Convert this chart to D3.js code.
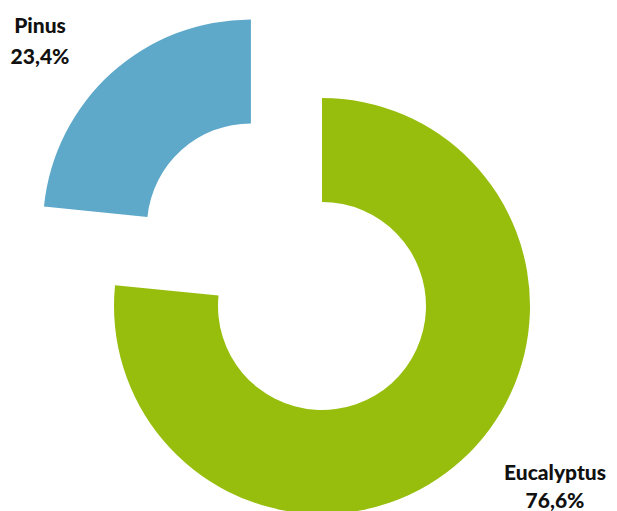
<!DOCTYPE html>
<html>
<head>
<meta charset="utf-8">
<script src="https://cdn.jsdelivr.net/npm/d3@7"></script>
<style>
  html, body { margin: 0; padding: 0; background: #ffffff; }
  svg { display: block; }
  .label { font-family: Lato, "Open Sans", sans-serif; font-weight: 900; fill: #111111; }
</style>
</head>
<body>
<div id="chart"></div>
<script>
// Plantation area share by genus
const categories = ["Eucalyptus", "Pinus"];
const shares = [76.6, 23.4];
const shareLabels = ["76,6%", "23,4%"];
const colors = ["#97be0d", "#5ea8ca"];

const width = 617, height = 511;
const cx = 322, cy = 306;
const outerR = 208, innerR = 104;
const explode = 106; // pull-out distance for the Pinus slice

const svg = d3.select("#chart").append("svg")
  .attr("width", width)
  .attr("height", height);

const pie = d3.pie().sort(null).value(d => d.value);
const arcs = pie(categories.map((c, i) => ({ name: c, value: shares[i], label: shareLabels[i], color: colors[i] })));

const arc = d3.arc().innerRadius(innerR).outerRadius(outerR);

const g = svg.append("g").attr("transform", `translate(${cx},${cy})`);

g.selectAll("path")
  .data(arcs)
  .join("path")
  .attr("d", arc)
  .attr("fill", d => d.data.color)
  .attr("transform", d => {
    if (d.data.name !== "Pinus") return null;
    const mid = (d.startAngle + d.endAngle) / 2;
    return `translate(${Math.sin(mid) * explode},${-Math.cos(mid) * explode})`;
  });

// Slice labels
const labelPos = {
  "Pinus": { x: 40, y1: 33, y2: 64 },
  "Eucalyptus": { x: 555, y1: 480, y2: 508 }
};

arcs.forEach(d => {
  const p = labelPos[d.data.name];
  const t = svg.append("text")
    .attr("class", "label")
    .attr("text-anchor", "middle")
    .attr("font-size", 21);
  t.append("tspan").attr("x", p.x).attr("y", p.y1).text(d.data.name);
  t.append("tspan").attr("x", p.x).attr("y", p.y2).text(d.data.label);
});
</script>
</body>
</html>
